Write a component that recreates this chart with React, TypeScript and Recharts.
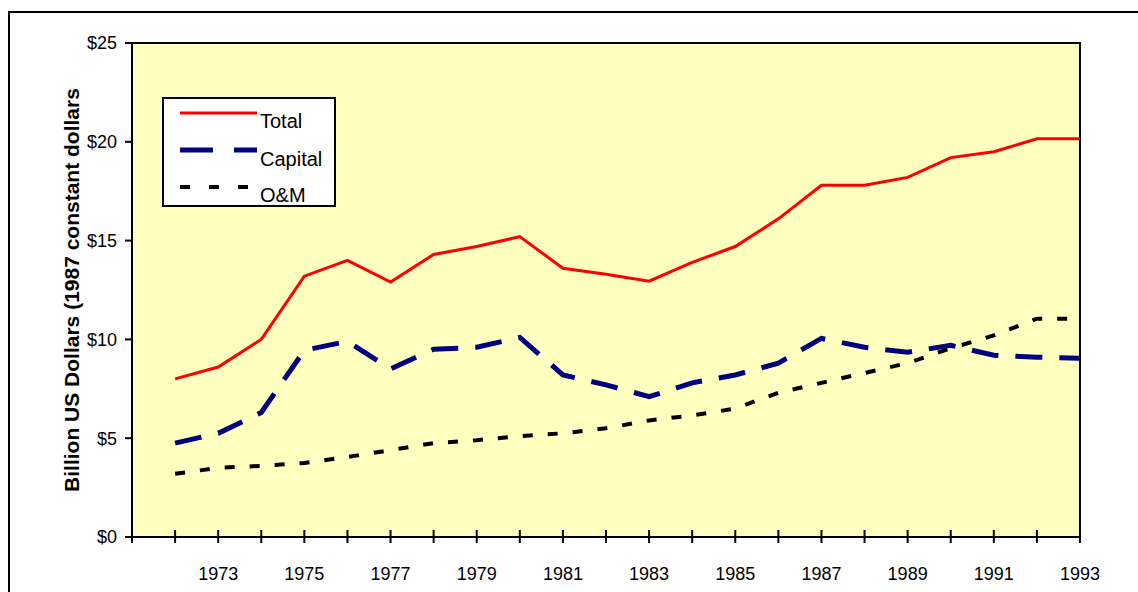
import React from 'react';
import { CartesianGrid, Legend, Line, LineChart, ReferenceArea, XAxis, YAxis } from 'recharts';

const years = [1972, 1973, 1974, 1975, 1976, 1977, 1978, 1979, 1980, 1981, 1982, 1983, 1984, 1985, 1986, 1987, 1988, 1989, 1990, 1991, 1992, 1993];
const total = [8.0, 8.6, 10.0, 13.2, 14.0, 12.9, 14.3, 14.7, 15.2, 13.6, 13.3, 12.95, 13.9, 14.7, 16.1, 17.8, 17.8, 18.2, 19.2, 19.5, 20.15, 20.15];
const capital = [4.75, 5.25, 6.3, 9.45, 9.9, 8.5, 9.5, 9.6, 10.1, 8.2, 7.7, 7.1, 7.8, 8.2, 8.8, 10.05, 9.6, 9.35, 9.7, 9.2, 9.1, 9.05];
const om = [3.2, 3.5, 3.6, 3.75, 4.05, 4.4, 4.75, 4.9, 5.1, 5.25, 5.5, 5.9, 6.15, 6.5, 7.3, 7.8, 8.3, 8.8, 9.55, 10.2, 11.05, 11.05];
const xTicks = [1971, 1972, 1973, 1974, 1975, 1976, 1977, 1978, 1979, 1980, 1981, 1982, 1983, 1984, 1985, 1986, 1987, 1988, 1989, 1990, 1991, 1992, 1993];
const yTicks = [0, 5, 10, 15, 20, 25];

const data = years.map((year, i) => ({ year, total: total[i], capital: capital[i], om: om[i] }));

const FONT = 'Arial, "Liberation Sans", Helvetica, sans-serif';

function YearTick({ x, y, payload }: any) {
  const v = payload.value as number;
  return (
    <g>
      <line x1={x} x2={x} y1={y - 7} y2={y + 6} stroke="#000" strokeWidth={2} />
      {v % 2 === 1 && v > 1971 ? (
        <text x={x} y={y + 43} textAnchor="middle" fontSize={18} fontFamily={FONT} fill="#000">
          {v}
        </text>
      ) : null}
    </g>
  );
}

function LegendBox() {
  return (
    <div style={{ width: 174, height: 110, boxSizing: 'border-box', border: '2px solid #000', background: '#fff' }}>
      <svg width={170} height={106} style={{ display: 'block' }}>
        <line x1={16} x2={93} y1={14} y2={14} stroke="#ff0000" strokeWidth={3} />
        <text x={96} y={29} fontSize={20} fontFamily={FONT}>Total</text>
        <line x1={16} x2={93} y1={51} y2={51} stroke="#000080" strokeWidth={5} strokeDasharray="33 21" />
        <text x={96} y={67} fontSize={20} fontFamily={FONT}>Capital</text>
        <line x1={16} x2={88} y1={88} y2={88} stroke="#000" strokeWidth={4} strokeDasharray="10 19" />
        <text x={96} y={103} fontSize={20} fontFamily={FONT}>O&amp;M</text>
      </svg>
    </div>
  );
}

export default function App() {
  return (
    <div style={{ position: 'absolute', left: 0, top: 0, width: 1138, height: 592, overflow: 'hidden', background: '#fff', fontFamily: FONT }}>
      <div style={{ position: 'absolute', left: 8, top: 11, width: 1200, height: 700, borderTop: '2px solid #000', borderLeft: '2px solid #000' }} />
      <div style={{ position: 'absolute', left: 0, top: 0 }}>
        <LineChart width={1138} height={592} data={data} margin={{ top: 43, right: 58, left: 72, bottom: 15 }}>
          <CartesianGrid horizontal={false} vertical={false} fill="#FFFFC0" />
          <XAxis
            dataKey="year"
            type="number"
            domain={[1971, 1993]}
            ticks={xTicks}
            interval={0}
            height={40}
            tickSize={0}
            tickMargin={0}
            tickLine={false}
            axisLine={{ stroke: '#000', strokeWidth: 2 }}
            tick={<YearTick />}
          />
          <YAxis
            type="number"
            domain={[0, 25]}
            ticks={yTicks}
            width={60}
            tickSize={7}
            tickMargin={8}
            tickFormatter={(v) => `$${v}`}
            tick={{ fill: '#000', fontSize: 18, fontFamily: FONT }}
            tickLine={{ stroke: '#000', strokeWidth: 2 }}
            axisLine={{ stroke: '#000', strokeWidth: 2 }}
            label={{
              value: 'Billion US Dollars (1987 constant dollars',
              angle: -90,
              position: 'center',
              dx: -30,
              fontSize: 21,
              fontWeight: 'bold',
              fontFamily: FONT,
              fill: '#000',
            }}
          />
          <ReferenceArea x1={1971} x2={1993} y1={0} y2={25} fill="none" stroke="#000" strokeWidth={2} />
          <Line dataKey="total" stroke="#ff0000" strokeWidth={3} dot={false} isAnimationActive={false} />
          <Line dataKey="capital" stroke="#000080" strokeWidth={5} strokeDasharray="27 17" dot={false} isAnimationActive={false} />
          <Line dataKey="om" stroke="#000" strokeWidth={4} strokeDasharray="10 15" dot={false} isAnimationActive={false} />
          <Legend
            layout="horizontal"
            verticalAlign="middle"
            align="center"
            content={<LegendBox />}
            wrapperStyle={{ position: 'absolute', left: 162, top: 97, width: 174, height: 110 }}
          />
        </LineChart>
      </div>
    </div>
  );
}
